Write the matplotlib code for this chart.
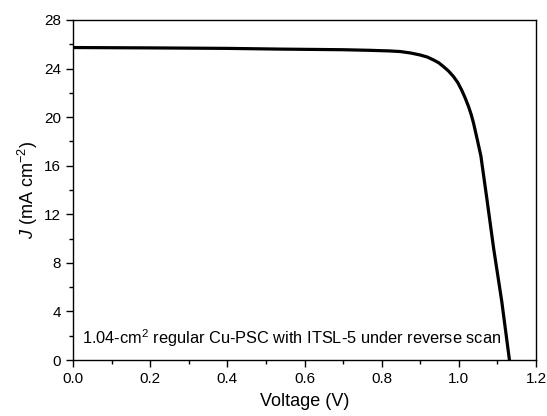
import matplotlib
matplotlib.use("Agg")
import matplotlib.pyplot as plt
from matplotlib.ticker import MultipleLocator

plt.rcParams['font.family'] = ['Liberation Sans', 'DejaVu Sans']
plt.rcParams['mathtext.fontset'] = 'custom'
plt.rcParams['mathtext.rm'] = 'Liberation Sans'
plt.rcParams['mathtext.it'] = 'Liberation Sans:italic'

# J-V curve
voltage = [0.0, 0.2, 0.4, 0.54, 0.7, 0.77, 0.82, 0.848, 0.875, 0.899, 0.918,
           0.934, 0.948, 0.960, 0.973, 0.986, 0.997, 1.007, 1.016, 1.025,
           1.032, 1.038, 1.048, 1.057, 1.072, 1.090, 1.111, 1.131]
current = [25.73, 25.7, 25.66, 25.6, 25.55, 25.5, 25.45, 25.4, 25.28, 25.12,
           24.95, 24.71, 24.47, 24.16, 23.8, 23.34, 22.85, 22.24, 21.6, 20.87,
           20.2, 19.5, 18.1, 16.8, 13.4, 9.2, 4.85, 0.0]

label_text = '1.04-cm$^2$ regular Cu-PSC with ITSL-5 under reverse scan'

fig = plt.figure(figsize=(5.47, 4.16), dpi=100)
ax = fig.add_axes([0.1335, 0.1346, 0.8465, 0.8174])

ax.plot(voltage, current, color='black', lw=2.3)

ax.set_xlim(0, 1.2)
ax.set_ylim(0, 28)
ax.xaxis.set_major_locator(MultipleLocator(0.2))
ax.xaxis.set_minor_locator(MultipleLocator(0.1))
ax.yaxis.set_major_locator(MultipleLocator(4))
ax.yaxis.set_minor_locator(MultipleLocator(2))
ax.xaxis.set_major_formatter(plt.FuncFormatter(lambda v, p: f'{v:.1f}'))

ax.tick_params(which='both', direction='out', top=False, right=False,
               labelsize=11, width=1)
ax.tick_params(which='major', length=5)
ax.tick_params(which='minor', length=3)
for s in ax.spines.values():
    s.set_linewidth(1)

ax.set_xlabel('Voltage (V)', fontsize=13, labelpad=5)
ax.set_ylabel(r'$\mathit{J}$ (mA cm$^{-2}$)', fontsize=13, labelpad=3)

ax.text(0.02, 0.065, label_text, transform=ax.transAxes, fontsize=11.8,
        va='center', ha='left')

fig.savefig('out.png', dpi=100)
